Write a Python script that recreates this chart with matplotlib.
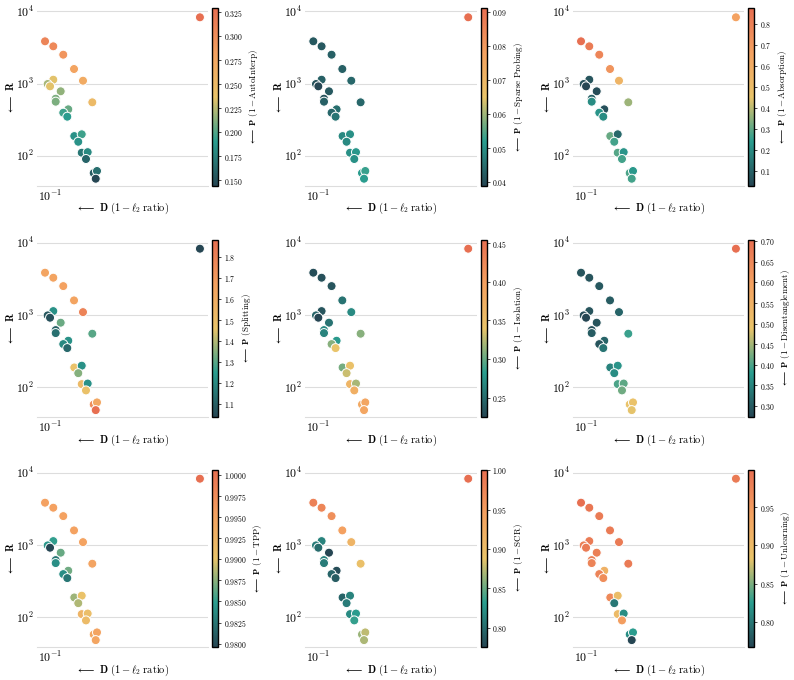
import matplotlib
matplotlib.use("Agg")
import matplotlib.pyplot as plt
from matplotlib.colors import LinearSegmentedColormap
from matplotlib.ticker import FuncFormatter

plt.rcParams['font.family'] = 'serif'
plt.rcParams['font.serif'] = ['cmr10']
plt.rcParams['mathtext.fontset'] = 'cm'
plt.rcParams['axes.formatter.use_mathtext'] = True

# D (1 - l2 ratio) and R for each SAE, same in every panel
d_vals = [0.560, 0.0941, 0.1035, 0.1161, 0.1314, 0.1457, 0.1622,
          0.1035, 0.0970, 0.0997, 0.1127, 0.1064, 0.1064,
          0.1230, 0.1161, 0.1216, 0.1318, 0.1436, 0.1380,
          0.1436, 0.1538, 0.1508, 0.1648, 0.1712, 0.1687]
r_vals = [8260, 3842, 3274, 2506, 1588, 1093, 549,
          1129, 984, 914, 780, 616, 560,
          439, 394, 347, 187, 198, 156,
          110, 112, 90, 57.5, 61.4, 48]

# P values per metric
p_autointerp = [0.329, 0.31, 0.305, 0.295, 0.28, 0.27, 0.25,
                0.235, 0.22, 0.235, 0.215, 0.21, 0.21,
                0.205, 0.195, 0.19, 0.185, 0.195, 0.185,
                0.17, 0.18, 0.16, 0.155, 0.165, 0.144]
p_sparse = [0.091, 0.042, 0.042, 0.043, 0.043, 0.044, 0.044,
            0.043, 0.041, 0.039, 0.042, 0.041, 0.043,
            0.045, 0.044, 0.046, 0.049, 0.050, 0.049,
            0.050, 0.051, 0.050, 0.052, 0.053, 0.052]
p_absorption = [0.66, 0.8725, 0.82, 0.78, 0.72, 0.55, 0.37,
                0.07, 0.06, 0.032, 0.05, 0.10, 0.20,
                0.06, 0.22, 0.20, 0.31, 0.12, 0.27,
                0.29, 0.22, 0.27, 0.28, 0.23, 0.27]
p_splitting = [1.036, 1.66, 1.66, 1.67, 1.66, 1.80, 1.30,
               1.22, 1.08, 1.06, 1.32, 1.10, 1.14,
               1.22, 1.20, 1.12, 1.47, 1.22, 1.35,
               1.52, 1.22, 1.48, 1.76, 1.64, 1.884]
p_isolation = [0.4548, 0.23, 0.232, 0.235, 0.255, 0.27, 0.31,
               0.235, 0.245, 0.2245, 0.255, 0.27, 0.265,
               0.28, 0.31, 0.34, 0.305, 0.345, 0.33,
               0.365, 0.32, 0.375, 0.385, 0.39, 0.39]
p_disent = [0.704, 0.29, 0.29, 0.295, 0.30, 0.31, 0.39,
            0.29, 0.28, 0.2725, 0.29, 0.285, 0.30,
            0.31, 0.29, 0.33, 0.35, 0.37, 0.36,
            0.40, 0.41, 0.42, 0.49, 0.495, 0.485]
p_tpp = [1.00063, 0.9955, 0.9955, 0.9953, 0.9953, 0.9952, 0.995,
         0.9850, 0.9845, 0.97957, 0.9865, 0.9825, 0.9840,
         0.9868, 0.9840, 0.9825, 0.9880, 0.9905, 0.9885,
         0.9925, 0.9910, 0.9915, 0.9945, 0.9950, 0.9948]
p_scr = [1.0009, 0.98, 0.975, 0.965, 0.945, 0.915, 0.895,
         0.815, 0.81, 0.80, 0.775, 0.815, 0.81,
         0.78, 0.795, 0.79, 0.795, 0.815, 0.81,
         0.82, 0.83, 0.835, 0.865, 0.875, 0.87]
p_unlearning = [0.985, 0.999, 0.99, 0.985, 0.985, 0.985, 0.985,
                0.985, 0.98, 0.985, 0.98, 0.98, 0.975,
                0.915, 0.975, 0.965, 0.97, 0.895, 0.80,
                0.90, 0.815, 0.945, 0.815, 0.825, 0.767]

metric_names = [r'1-\mathrm{AutoInterp}', r'1-\mathrm{Sparse\ Probing}', r'1-\mathrm{Absorption}',
                r'\mathrm{Splitting}', r'1-\mathrm{Isolation}', r'1-\mathrm{Disentanglement}',
                r'1-\mathrm{TPP}', r'1-\mathrm{SCR}', r'1-\mathrm{Unlearning}']
metric_vals = [p_autointerp, p_sparse, p_absorption, p_splitting, p_isolation,
               p_disent, p_tpp, p_scr, p_unlearning]
cbar_ticks = [[0.150, 0.175, 0.200, 0.225, 0.250, 0.275, 0.300, 0.325],
              [0.04, 0.05, 0.06, 0.07, 0.08, 0.09],
              [0.1, 0.2, 0.3, 0.4, 0.5, 0.6, 0.7, 0.8],
              [1.1, 1.2, 1.3, 1.4, 1.5, 1.6, 1.7, 1.8],
              [0.25, 0.30, 0.35, 0.40, 0.45],
              [0.30, 0.35, 0.40, 0.45, 0.50, 0.55, 0.60, 0.65, 0.70],
              [0.9800, 0.9825, 0.9850, 0.9875, 0.9900, 0.9925, 0.9950, 0.9975, 1.0000],
              [0.80, 0.85, 0.90, 0.95, 1.00],
              [0.80, 0.85, 0.90, 0.95]]
cbar_decimals = [3, 2, 1, 1, 2, 2, 4, 2, 2]

cmap = LinearSegmentedColormap.from_list(
    'sae', ['#264653', '#2a9d8f', '#e9c46a', '#f4a261', '#e76f51'])

W, H = 794, 680
fig = plt.figure(figsize=(W / 100, H / 100), dpi=100)

col_left = [36.7, 305, 572.7]
row_top = [8.3, 239.7, 469.7]
ax_w, ax_h = 171.5, 177.5

for i in range(9):
    r, c = divmod(i, 3)
    left, top = col_left[c], row_top[r]
    ax = fig.add_axes([left / W, 1 - (top + ax_h) / H, ax_w / W, ax_h / H])
    cax = fig.add_axes([(left + 175.6) / W, 1 - (top + ax_h) / H, 6 / W, ax_h / H])

    sc = ax.scatter(d_vals, r_vals, c=metric_vals[i], cmap=cmap, s=42,
                    edgecolors='white', linewidths=0.7, zorder=3)
    ax.set_xscale('log')
    ax.set_yscale('log')
    ax.set_xlim(0.0855, 0.616)
    ax.set_ylim(38.3, 11005)
    ax.minorticks_off()
    ax.set_xticks([0.1])
    ax.grid(axis='y', color='#dddddd', linewidth=0.8)
    ax.set_axisbelow(True)
    for s in ['top', 'right', 'left']:
        ax.spines[s].set_visible(False)
    ax.spines['bottom'].set_color('#dddddd')
    ax.spines['bottom'].set_linewidth(0.8)
    ax.tick_params(length=0, labelsize=8.5, pad=2)
    ax.set_xlabel(r'$\longleftarrow\ \mathbf{D}\ (1-\ell_2\ \mathrm{ratio})$', fontsize=7.5, labelpad=-2)
    ax.set_ylabel(r'$\longleftarrow\ \mathbf{R}$', fontsize=7.5, labelpad=0)

    cb = fig.colorbar(sc, cax=cax)
    cb.set_ticks(cbar_ticks[i])
    n = cbar_decimals[i]
    cb.ax.yaxis.set_major_formatter(FuncFormatter(lambda v, p, n=n: '$%.*f$' % (n, v)))
    cb.ax.minorticks_off()
    cb.ax.tick_params(labelsize=5.5, length=2, width=0.5, pad=2)
    cb.outline.set_linewidth(1.0)
    cb.set_label(r'$\longleftarrow\ \mathbf{P}\ (' + metric_names[i] + ')$', fontsize=6.5, labelpad=3)

fig.savefig('out.png', dpi=100)
